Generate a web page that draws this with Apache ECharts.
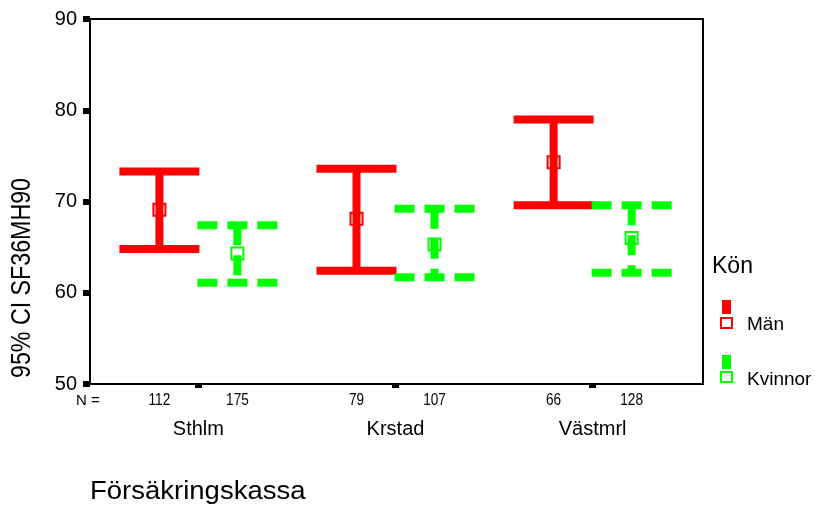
<!DOCTYPE html>
<html>
<head>
<meta charset="utf-8">
<script src="https://cdn.jsdelivr.net/npm/echarts@6/dist/echarts.min.js"></script>
<style>
  html, body { margin: 0; padding: 0; background: #fff; }
  #chart { width: 816px; height: 505px; }
</style>
</head>
<body>
<div id="chart"></div>
<script>
// Försäkringskassa groups, 95% CI of SF36MH90 per gender
const categories = ['Sthlm', 'Krstad', 'Västmrl']
const maleMean = [69.1, 68.1, 74.3]
const maleLow = [64.8, 62.4, 69.6]
const maleHigh = [73.3, 73.6, 79.0]
const femaleMean = [64.3, 65.3, 66.0]
const femaleLow = [61.1, 61.7, 62.2]
const femaleHigh = [67.4, 69.2, 69.6]
const maleN = [112, 79, 66]
const femaleN = [175, 107, 128]
const yTicks = [50, 60, 70, 80, 90]

const RED = '#ff0000'
const GREEN = '#00ff00'
const FONT = 'Liberation Sans, Arial, sans-serif'

function rows(low, high, mean, n) {
  return categories.map((c, i) => [i + 1, low[i], high[i], mean[i], n[i]])
}

// one error bar: vertical whisker, two caps, open square at the mean, N below axis
function makeRender(color, shift, dash) {
  return function (params, api) {
    const x = api.value(0)
    const top = api.coord([x, api.value(2)])
    const bot = api.coord([x, api.value(1)])
    const mid = api.coord([x, api.value(3)])
    const base = api.coord([x, yTicks[0]])
    const cx = top[0] + shift
    const ls = { stroke: color, lineWidth: 8, lineCap: 'butt', lineDash: dash }
    return {
      type: 'group',
      children: [
        { type: 'line', shape: { x1: cx, y1: top[1], x2: cx, y2: bot[1] }, style: ls },
        { type: 'line', shape: { x1: cx - 40, y1: top[1], x2: cx + 40, y2: top[1] }, style: ls },
        { type: 'line', shape: { x1: cx - 40, y1: bot[1], x2: cx + 40, y2: bot[1] }, style: ls },
        { type: 'rect', shape: { x: cx - 6, y: mid[1] - 6, width: 12, height: 12 },
          style: { fill: 'none', stroke: color, lineWidth: 2 } },
        { type: 'text', x: cx, y: base[1] + 17, scaleX: 0.85,
          style: { text: String(api.value(4)), fill: '#000', font: '16px ' + FONT,
                   align: 'center', verticalAlign: 'middle' } }
      ]
    }
  }
}

const chart = echarts.init(document.getElementById('chart'))
chart.setOption({
  backgroundColor: '#fff',
  animation: false,
  grid: {
    left: 90, right: 113, top: 19, bottom: 121,
    show: true, borderColor: '#000', borderWidth: 2
  },
  xAxis: {
    type: 'value',
    min: 0.45,
    max: 3.56,
    splitLine: { show: false },
    axisLine: { lineStyle: { color: '#000', width: 2 } },
    axisTick: { customValues: [1, 2, 3], length: 4, lineStyle: { color: '#000', width: 7 } },
    axisLabel: {
      customValues: [1, 2, 3],
      formatter: v => categories[Math.round(v) - 1],
      margin: 35,
      color: '#000',
      fontSize: 20,
      fontFamily: FONT
    }
  },
  yAxis: {
    type: 'value',
    min: 50,
    max: 90,
    interval: 10,
    splitLine: { show: false },
    axisLine: { show: true, lineStyle: { color: '#000', width: 2 } },
    axisTick: { length: 7, lineStyle: { color: '#000', width: 6 } },
    axisLabel: {
      margin: 13,
      color: '#000',
      fontSize: 20,
      fontFamily: FONT,
      formatter: v => (yTicks.includes(v) ? String(v) : '')
    }
  },
  series: [
    {
      name: 'Män',
      type: 'custom',
      renderItem: makeRender(RED, -39, null),
      data: rows(maleLow, maleHigh, maleMean, maleN),
      clip: false
    },
    {
      name: 'Kvinnor',
      type: 'custom',
      renderItem: makeRender(GREEN, 39, [20, 10]),
      data: rows(femaleLow, femaleHigh, femaleMean, femaleN),
      clip: false
    }
  ],
  graphic: [
    { type: 'text', x: 23, y: 278, rotation: Math.PI / 2, scaleX: 0.86,
      style: { text: '95% CI SF36MH90', fill: '#000', font: '27px ' + FONT,
               align: 'center', verticalAlign: 'middle' } },
    { type: 'text', x: 76, y: 401,
      style: { text: 'N =', fill: '#000', font: '15px ' + FONT, verticalAlign: 'middle' } },
    { type: 'text', x: 90, y: 492, scaleX: 1.1,
      style: { text: 'Försäkringskassa', fill: '#000', font: '25px ' + FONT, verticalAlign: 'middle' } },
    // legend
    { type: 'text', x: 712, y: 267,
      style: { text: 'Kön', fill: '#000', font: '23px ' + FONT, verticalAlign: 'middle' } },
    { type: 'rect', shape: { x: 722, y: 300, width: 9, height: 14 }, style: { fill: RED } },
    { type: 'rect', shape: { x: 721, y: 318, width: 11, height: 10 },
      style: { fill: 'none', stroke: RED, lineWidth: 2 } },
    { type: 'text', x: 747, y: 325,
      style: { text: 'Män', fill: '#000', font: '19px ' + FONT, verticalAlign: 'middle' } },
    { type: 'rect', shape: { x: 722, y: 355, width: 9, height: 14 }, style: { fill: GREEN } },
    { type: 'rect', shape: { x: 721, y: 372, width: 11, height: 10 },
      style: { fill: 'none', stroke: GREEN, lineWidth: 2 } },
    { type: 'text', x: 747, y: 380,
      style: { text: 'Kvinnor', fill: '#000', font: '19px ' + FONT, verticalAlign: 'middle' } }
  ]
})

window.onresize = function () {
  chart.resize()
}
</script>
</body>
</html>
